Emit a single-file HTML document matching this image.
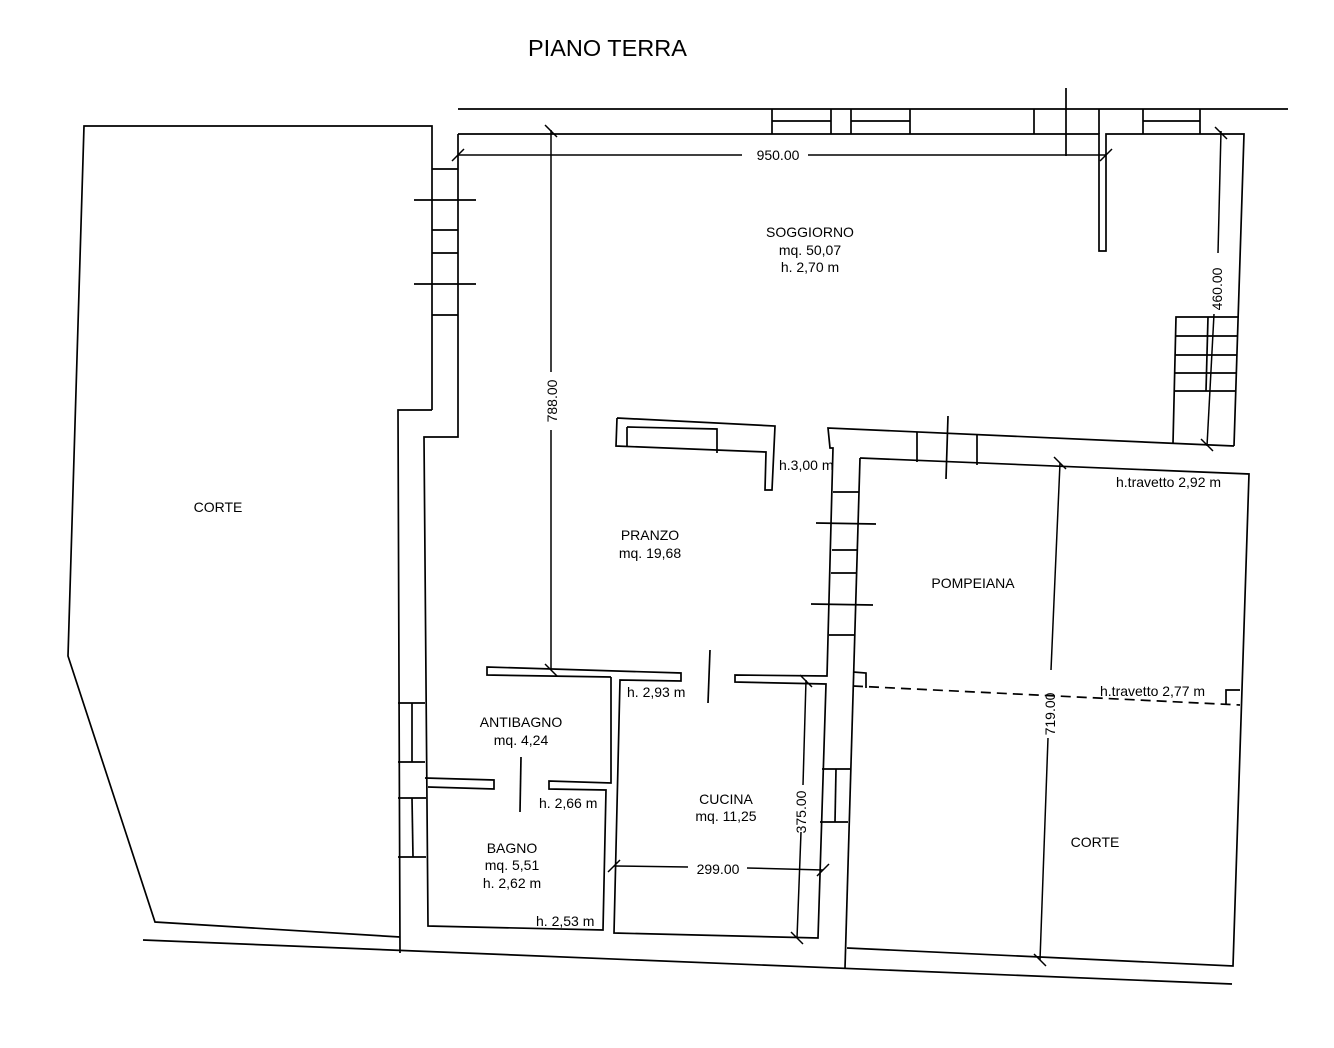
<!DOCTYPE html>
<html><head><meta charset="utf-8"><style>
html,body{margin:0;padding:0;background:#fff;}
svg{display:block;}
text{font-family:"Liberation Sans",Arial,sans-serif;font-size:14px;fill:#000;}
</style></head><body>
<svg width="1334" height="1048" viewBox="0 0 1334 1048" xmlns="http://www.w3.org/2000/svg">
<g fill="none" stroke="#000" stroke-width="1.7">
<polyline points="432,410 432,126 84,126 68,656 155,922 400,937"/>
<line x1="143" y1="940" x2="1232" y2="984"/>
<polyline points="432,410 398,410 400,953"/>
<polyline points="458,134 458,437 424,437 428,926 603,930 606,790 549,789 549,781 611,783 611,677"/>
<line x1="432" y1="169" x2="458" y2="169"/>
<line x1="414" y1="200" x2="476" y2="200"/>
<line x1="432" y1="230" x2="458" y2="230"/>
<line x1="432" y1="253" x2="458" y2="253"/>
<line x1="414" y1="284" x2="476" y2="284"/>
<line x1="432" y1="315" x2="458" y2="315"/>
<line x1="398" y1="703" x2="425" y2="703"/>
<line x1="398" y1="762" x2="425" y2="762"/>
<line x1="412" y1="703" x2="412" y2="762"/>
<line x1="398" y1="798" x2="426" y2="798"/>
<line x1="398" y1="857" x2="426" y2="857"/>
<line x1="412" y1="798" x2="413" y2="857"/>
<polyline points="425,778 494,780 494,789 428,787"/>
<line x1="521" y1="757" x2="520" y2="812"/>
<line x1="458" y1="109" x2="1288" y2="109"/>
<polyline points="458,134 1099,134 1099,251 1106,251 1106,134 1244,134 1234,446"/>
<line x1="772" y1="109" x2="772" y2="134"/><line x1="831" y1="109" x2="831" y2="134"/>
<line x1="851" y1="109" x2="851" y2="134"/><line x1="910" y1="109" x2="910" y2="134"/>
<line x1="772" y1="121" x2="831" y2="121"/><line x1="851" y1="121" x2="910" y2="121"/>
<line x1="1034" y1="109" x2="1034" y2="134"/><line x1="1099" y1="109" x2="1099" y2="134"/>
<line x1="1066" y1="88" x2="1066" y2="156"/>
<line x1="1143" y1="109" x2="1143" y2="134"/><line x1="1200" y1="109" x2="1200" y2="134"/>
<line x1="1143" y1="121" x2="1200" y2="121"/>
<polyline points="1238,317 1176,317 1173,443"/>
<line x1="1176" y1="336" x2="1237" y2="336"/>
<line x1="1175" y1="355" x2="1237" y2="355"/>
<line x1="1175" y1="373" x2="1236" y2="373"/>
<line x1="1174" y1="391" x2="1236" y2="391"/>
<line x1="1208" y1="317" x2="1206" y2="391"/>
<polyline points="1234,446 828,428 830,448 833,448 827,676 735,675 735,682 826,684 818,938 614,933 620,680 681,681 681,673 487,667 487,675 611,677"/>
<line x1="917" y1="432" x2="917" y2="462"/>
<line x1="977" y1="435" x2="977" y2="465"/>
<line x1="948" y1="416" x2="946" y2="479"/>
<line x1="710" y1="650" x2="708" y2="703"/>
<polyline points="860,458 1249,474 1233,966 847,948"/>
<line x1="860" y1="458" x2="845" y2="968"/>
<line x1="833" y1="492" x2="859" y2="492"/>
<line x1="816" y1="523" x2="876" y2="524"/>
<line x1="832" y1="550" x2="858" y2="550"/>
<line x1="831" y1="573" x2="857" y2="573"/>
<line x1="811" y1="604" x2="873" y2="605"/>
<line x1="829" y1="635" x2="855" y2="635"/>
<line x1="822" y1="769" x2="850" y2="769"/>
<line x1="820" y1="822" x2="848" y2="822"/>
<line x1="836" y1="769" x2="835" y2="822"/>
<polyline points="617,418 775,426 772,490 765,490 766,452 616,446 617,418"/>
<polyline points="627,427 717,429 717,453"/>
<line x1="627" y1="427" x2="627" y2="447"/>
<polyline points="853,672 866,673 866,688"/>
<polyline points="1226,704 1226,690 1240,690"/>
<line x1="853" y1="686" x2="1240" y2="705" stroke-dasharray="10,6"/>
</g>
<g fill="none" stroke="#000" stroke-width="1.5">
<line x1="458" y1="155" x2="742" y2="155"/><line x1="808" y1="155" x2="1106" y2="155"/>
<line x1="452" y1="161" x2="464" y2="149"/><line x1="1100" y1="161" x2="1112" y2="149"/>
<line x1="551" y1="130" x2="551" y2="372"/><line x1="551" y1="430" x2="551" y2="670"/>
<line x1="545" y1="125" x2="557" y2="137"/><line x1="545" y1="664" x2="557" y2="676"/>
<line x1="1221" y1="131" x2="1218" y2="253"/><line x1="1214" y1="314" x2="1207" y2="446"/>
<line x1="1215" y1="127" x2="1227" y2="139"/><line x1="1201" y1="439" x2="1213" y2="451"/>
<line x1="806" y1="680" x2="803" y2="785"/><line x1="801" y1="832" x2="797" y2="938"/>
<line x1="800" y1="675" x2="812" y2="687"/><line x1="791" y1="932" x2="803" y2="944"/>
<line x1="614" y1="866" x2="688" y2="867"/><line x1="747" y1="868" x2="823" y2="870"/>
<line x1="608" y1="872" x2="620" y2="860"/><line x1="817" y1="876" x2="829" y2="864"/>
<line x1="1060" y1="463" x2="1051" y2="670"/><line x1="1048" y1="738" x2="1040" y2="960"/>
<line x1="1054" y1="457" x2="1066" y2="469"/><line x1="1034" y1="954" x2="1046" y2="966"/>
</g>
<text x="528" y="56" style="font-size:23.5px">PIANO TERRA</text>
<text x="778" y="160" text-anchor="middle">950.00</text>
<text transform="translate(557,401) rotate(-90)" text-anchor="middle">788.00</text>
<text transform="translate(1222,289) rotate(-90)" text-anchor="middle">460.00</text>
<text transform="translate(806,812) rotate(-90)" text-anchor="middle">375.00</text>
<text transform="translate(1055,714) rotate(-90)" text-anchor="middle">719.00</text>
<text x="718" y="874" text-anchor="middle">299.00</text>
<text x="810" y="237" text-anchor="middle">SOGGIORNO</text>
<text x="810" y="255" text-anchor="middle">mq. 50,07</text>
<text x="810" y="272" text-anchor="middle">h.  2,70 m</text>
<text x="218" y="512" text-anchor="middle">CORTE</text>
<text x="650" y="540" text-anchor="middle">PRANZO</text>
<text x="650" y="558" text-anchor="middle">mq. 19,68</text>
<text x="779" y="470">h.3,00 m</text>
<text x="973" y="588" text-anchor="middle">POMPEIANA</text>
<text x="1116" y="487">h.travetto  2,92 m</text>
<text x="1100" y="696">h.travetto  2,77 m</text>
<text x="521" y="727" text-anchor="middle">ANTIBAGNO</text>
<text x="521" y="745" text-anchor="middle">mq. 4,24</text>
<text x="627" y="697">h.  2,93 m</text>
<text x="539" y="808">h.  2,66 m</text>
<text x="512" y="853" text-anchor="middle">BAGNO</text>
<text x="512" y="870" text-anchor="middle">mq. 5,51</text>
<text x="512" y="888" text-anchor="middle">h.  2,62 m</text>
<text x="536" y="926">h.  2,53 m</text>
<text x="726" y="804" text-anchor="middle">CUCINA</text>
<text x="726" y="821" text-anchor="middle">mq. 11,25</text>
<text x="1095" y="847" text-anchor="middle">CORTE</text>
</svg>
</body></html>
